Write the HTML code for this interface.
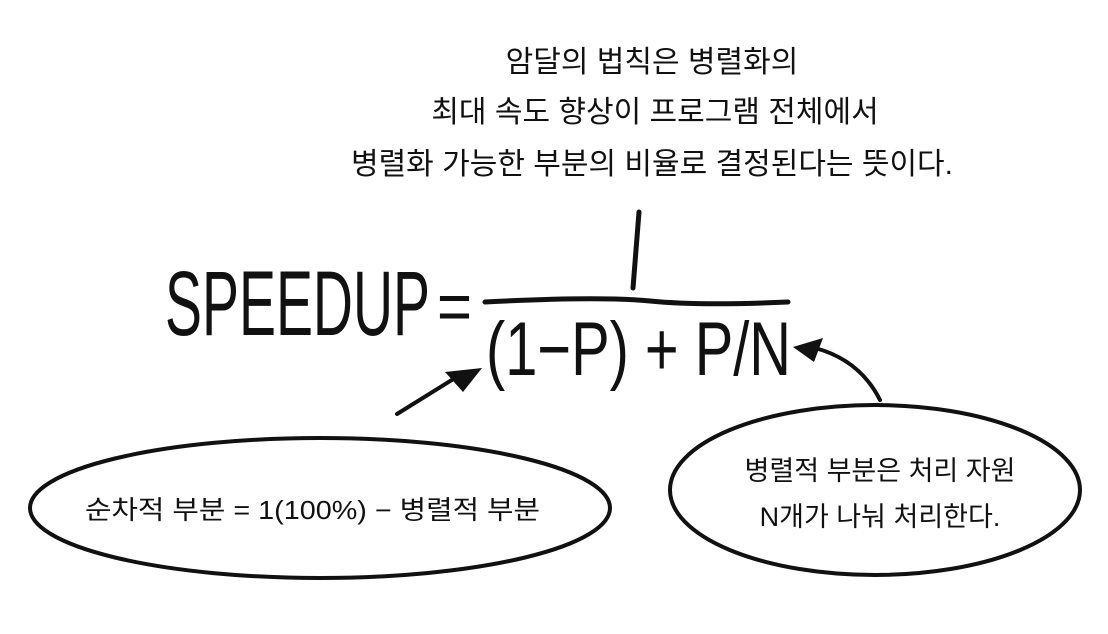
<!DOCTYPE html>
<html><head><meta charset="utf-8"><style>
html,body{margin:0;padding:0;background:#fff;}
svg{display:block}
text{font-family:"Liberation Sans","Noto Sans CJK KR","NanumGothic",sans-serif;fill:#111;}
</style></head><body>
<svg width="1108" height="634" viewBox="0 0 1108 634" xmlns="http://www.w3.org/2000/svg">
<g font-size="30" text-anchor="middle">
<text x="652" y="72">암달의 법칙은 병렬화의</text>
<text x="655" y="122">최대 속도 향상이 프로그램 전체에서</text>
<text x="652" y="174">병렬화 가능한 부분의 비율로 결정된다는 뜻이다.</text>
</g>
<text x="165" y="335" font-size="92" textLength="265" lengthAdjust="spacingAndGlyphs">SPEEDUP</text>
<text x="437" y="330" font-size="70" textLength="35" lengthAdjust="spacingAndGlyphs">=</text>
<path d="M485 302 Q600 296 650 301 T788 302" stroke="#111" stroke-width="5" fill="none" stroke-linecap="round"/>
<path d="M639 212 L633 288" stroke="#111" stroke-width="5" stroke-linecap="round"/>
<text x="486" y="375" font-size="76" textLength="305" lengthAdjust="spacingAndGlyphs">(1−P) + P/N</text>
<g stroke="#111" stroke-width="4" fill="none" stroke-linecap="round">
<ellipse cx="320" cy="508" rx="290" ry="70"/>
<ellipse cx="875" cy="490" rx="205" ry="85"/>
<path d="M397 414 L455 378"/>
<path d="M880 400 Q860 360 815 348"/>
</g>
<path d="M482 368 L445 372 L463 392 Z" fill="#111"/>
<path d="M793 347 L823 338 L814 362 Z" fill="#111"/>
<text x="85" y="519" font-size="26" textLength="455" lengthAdjust="spacingAndGlyphs">순차적 부분 = 1(100%) − 병렬적 부분</text>
<g font-size="27" text-anchor="middle">
<text x="880" y="480">병렬적 부분은 처리 자원</text>
<text x="880" y="526">N개가 나눠 처리한다.</text>
</g>
</svg>
</body></html>
